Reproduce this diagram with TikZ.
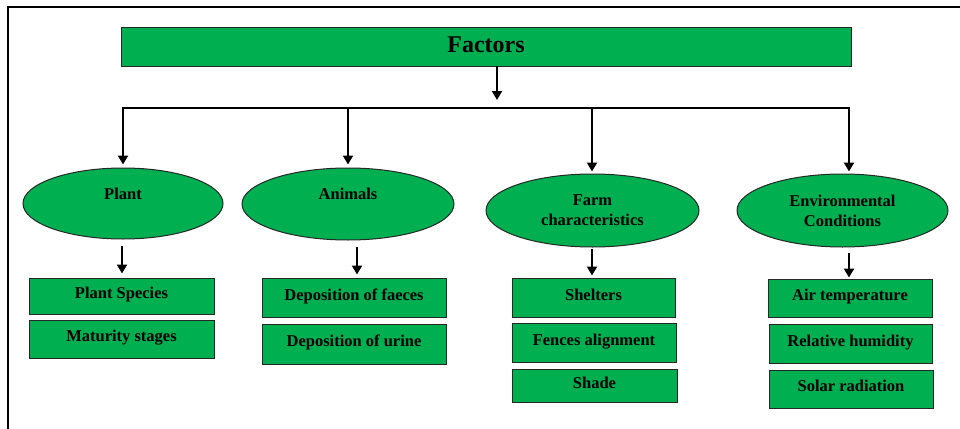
\documentclass[tikz,border=0pt]{standalone}
\usepackage{fontspec}
\setmainfont{Liberation Serif}
\usetikzlibrary{shapes.geometric,arrows.meta}
\definecolor{fgreen}{HTML}{00B050}
\tikzset{
  boxnode/.style={draw=black!85, line width=1pt, fill=fgreen, rectangle, inner sep=0pt,
    font=\fontsize{16.5}{20}\bfseries, text height=11.7pt, text depth=6pt},
  ellnode/.style={draw=black!85, line width=1pt, fill=fgreen, ellipse, inner sep=0pt,
    font=\fontsize{16.5}{20}\bfseries, align=center},
  arr/.style={line width=2.6pt, -{Triangle[length=9pt,width=10pt]}},
  plainline/.style={line width=2.8pt}
}
\begin{document}
\begin{tikzpicture}[x=1pt,y=-1pt]
\useasboundingbox (0,0) rectangle (960,428);
% frame
\draw[line width=2.2pt] (8,432) -- (8,7) -- (962,7);
% top box
\node[boxnode, minimum width=730pt, minimum height=38pt, font=\fontsize{24}{28}\bfseries, text height=16pt, text depth=5pt] (fac) at (486,47) {Factors};
% ellipses
\node[ellnode, minimum width=200pt, minimum height=71pt] (plant) at (123,203.5) {Plant\\~};
\node[ellnode, minimum width=212pt, minimum height=72pt] (anim) at (348,204) {Animals\\~};
\node[ellnode, minimum width=213pt, minimum height=73pt] (farm) at (592.5,210.5) {Farm\\characteristics};
\node[ellnode, minimum width=211pt, minimum height=73pt] (env) at (842.5,210.5) {Environmental\\Conditions};
% boxes
\node[boxnode, minimum width=185pt, minimum height=36pt] (ps) at (121.5,296) {Plant Species};
\node[boxnode, minimum width=185pt, minimum height=38pt] (ms) at (121.5,339) {Maturity stages};
\node[boxnode, minimum width=184pt, minimum height=39pt] (dfa) at (354,297.5) {Deposition of faeces};
\node[boxnode, minimum width=184pt, minimum height=40pt] (dur) at (354,344) {Deposition of urine};
\node[boxnode, minimum width=163pt, minimum height=39pt] (shel) at (593.5,297.5) {Shelters};
\node[boxnode, minimum width=164pt, minimum height=39pt] (fen) at (594,342.5) {Fences alignment};
\node[boxnode, minimum width=165pt, minimum height=33pt] (shade) at (594.5,385.5) {Shade};
\node[boxnode, minimum width=164pt, minimum height=38pt] (air) at (850,298) {Air temperature};
\node[boxnode, minimum width=163pt, minimum height=39pt] (rh) at (850.5,343.5) {Relative humidity};
\node[boxnode, minimum width=164pt, minimum height=38pt] (sol) at (851,389) {Solar radiation};
% connectors top
\coordinate (f0) at (497,66);
\coordinate (j1) at (123,108);
\coordinate (j2) at (348,108);
\coordinate (j3) at (592,108);
\coordinate (j4) at (849,108);
\draw[arr] (f0) -- (497,100);
\draw[plainline] ([xshift=-1.4pt]j1) -- ([xshift=1.4pt]j4);
\draw[arr] (j1) -- ([yshift=3pt]j1 |- plant.north);
\draw[arr] (j2) -- ([yshift=3pt]j2 |- anim.north);
\draw[arr] (j3) -- ([yshift=2pt]j3 |- farm.north);
\draw[arr] (j4) -- ([yshift=2pt]j4 |- env.north);
% connectors to boxes
\coordinate (a1) at (122,246);
\coordinate (a2) at (357,247);
\coordinate (a3) at (592,249);
\coordinate (a4) at (849,253);
\draw[arr] (a1) -- ([yshift=4pt]a1 |- ps.north);
\draw[arr] (a2) -- ([yshift=3pt]a2 |- dfa.north);
\draw[arr] (a3) -- ([yshift=2pt]a3 |- shel.north);
\draw[arr] (a4) -- ([yshift=1pt]a4 |- air.north);
\end{tikzpicture}
\end{document}
